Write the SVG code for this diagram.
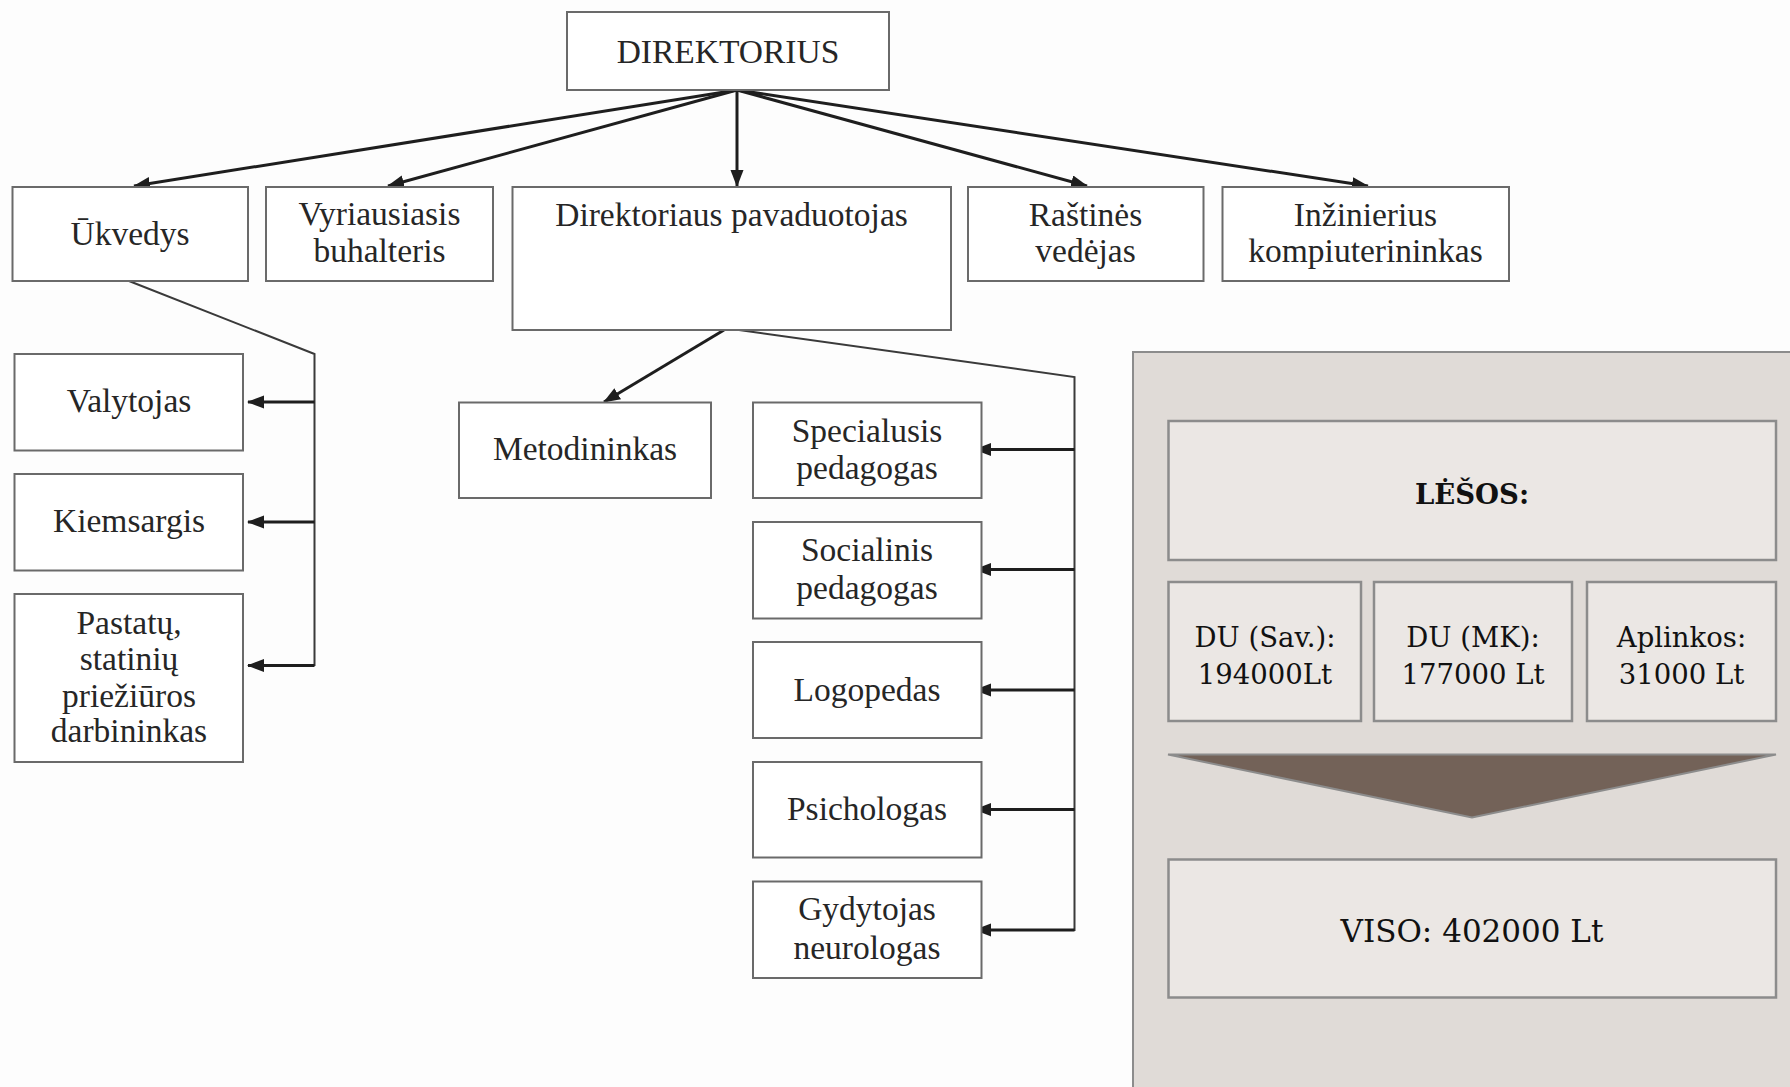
<svg xmlns="http://www.w3.org/2000/svg" width="1790" height="1087" viewBox="0 0 1790 1087">
<defs>
<marker id="ah" markerUnits="userSpaceOnUse" markerWidth="18" markerHeight="14" refX="16" refY="6.5" orient="auto">
<path d="M0,0 L17,6.5 L0,13 z" fill="#1e1e1e"/>
</marker>
</defs>
<style>
.bg{fill:#fdfdfd}
.box{fill:#ffffff;stroke:#6a6a6a;stroke-width:2}
.t{font-family:"Liberation Serif","Times New Roman",serif;font-size:33.5px;fill:#262626;text-anchor:middle}
.ar{fill:none;stroke:#1e1e1e;stroke-width:3;marker-end:url(#ah)}
.ln{fill:none;stroke:#3a3a3a;stroke-width:2}
.panel{fill:#e0dbd7;stroke:#8c8c8c;stroke-width:2}
.pbox{fill:#ebe7e4;stroke:#8c8c8c;stroke-width:2.5}
.pt{font-family:"DejaVu Serif","Liberation Serif",serif;font-size:27.5px;fill:#111;text-anchor:middle}
.pl{font-size:31px}
</style>
<rect class="bg" x="0" y="0" width="1790" height="1087"/>

<g id="connectors">
<line class="ar" x1="737" y1="90" x2="134" y2="186"/>
<line class="ar" x1="737" y1="90" x2="388" y2="186"/>
<line class="ar" x1="737" y1="90" x2="737" y2="186"/>
<line class="ar" x1="737" y1="90" x2="1087" y2="186"/>
<line class="ar" x1="737" y1="90" x2="1368" y2="186"/>
<polyline class="ln" points="129,281 314.5,354 314.5,666"/>
<line class="ar" x1="314.5" y1="402" x2="248" y2="402"/>
<line class="ar" x1="314.5" y1="522" x2="248" y2="522"/>
<line class="ar" x1="314.5" y1="665.5" x2="248" y2="665.5"/>
<line class="ar" x1="724" y1="330" x2="604" y2="402"/>
<polyline class="ln" points="739,330 1074.5,377 1074.5,931"/>
<line class="ar" x1="1074.5" y1="449.5" x2="975" y2="449.5"/>
<line class="ar" x1="1074.5" y1="569.5" x2="975" y2="569.5"/>
<line class="ar" x1="1074.5" y1="690" x2="975" y2="690"/>
<line class="ar" x1="1074.5" y1="809.5" x2="975" y2="809.5"/>
<line class="ar" x1="1074.5" y1="930" x2="975" y2="930"/>
</g>

<g id="n-direktorius"><rect class="box" x="567" y="12" width="322" height="78"/><text class="t" x="728" y="63">DIREKTORIUS</text></g>
<g id="n-ukvedys"><rect class="box" x="12.5" y="187" width="235.5" height="94"/><text class="t" x="130" y="245">Ūkvedys</text></g>
<g id="n-buhalteris"><rect class="box" x="266" y="187" width="227" height="94"/><text class="t" x="379.5" y="225">Vyriausiasis</text><text class="t" x="379.5" y="262">buhalteris</text></g>
<g id="n-pavaduotojas"><rect class="box" x="512.5" y="187" width="438.5" height="143"/><text class="t" x="731.5" y="226">Direktoriaus pavaduotojas</text></g>
<g id="n-rastine"><rect class="box" x="968" y="187" width="235.5" height="94"/><text class="t" x="1085.5" y="226">Raštinės</text><text class="t" x="1085.5" y="262">vedėjas</text></g>
<g id="n-inzinierius"><rect class="box" x="1222.5" y="187" width="286.5" height="94"/><text class="t" x="1365.5" y="226">Inžinierius</text><text class="t" x="1365.5" y="262">kompiuterininkas</text></g>

<g id="n-valytojas"><rect class="box" x="14.5" y="354" width="228.5" height="96.5"/><text class="t" x="129" y="412">Valytojas</text></g>
<g id="n-kiemsargis"><rect class="box" x="14.5" y="474" width="228.5" height="96.5"/><text class="t" x="129" y="532">Kiemsargis</text></g>
<g id="n-pastatu"><rect class="box" x="14.5" y="594" width="228.5" height="168"/><text class="t" x="129" y="634">Pastatų,</text><text class="t" x="129" y="670">statinių</text><text class="t" x="129" y="706.5">priežiūros</text><text class="t" x="129" y="742">darbininkas</text></g>

<g id="n-metodininkas"><rect class="box" x="459" y="402.5" width="252" height="95.5"/><text class="t" x="585" y="460">Metodininkas</text></g>
<g id="n-specialusis"><rect class="box" x="753" y="402.5" width="228.5" height="95.5"/><text class="t" x="867" y="442">Specialusis</text><text class="t" x="867" y="479">pedagogas</text></g>
<g id="n-socialinis"><rect class="box" x="753" y="522" width="228.5" height="96.5"/><text class="t" x="867" y="561">Socialinis</text><text class="t" x="867" y="599">pedagogas</text></g>
<g id="n-logopedas"><rect class="box" x="753" y="642" width="228.5" height="96"/><text class="t" x="867" y="701">Logopedas</text></g>
<g id="n-psichologas"><rect class="box" x="753" y="762" width="228.5" height="95.5"/><text class="t" x="867" y="820">Psichologas</text></g>
<g id="n-gydytojas"><rect class="box" x="753" y="881.5" width="228.5" height="96.5"/><text class="t" x="867" y="920">Gydytojas</text><text class="t" x="867" y="959">neurologas</text></g>

<g id="lesos-panel">
<rect class="panel" x="1133" y="352" width="700" height="800"/>
<g id="p-lesos"><rect class="pbox" x="1168.5" y="421" width="607.5" height="139"/><text class="pt" x="1472" y="504" font-weight="bold">LĖŠOS:</text></g>
<g id="p-sav"><rect class="pbox" x="1168.5" y="582" width="192.5" height="139"/><text class="pt" x="1265" y="647">DU (Sav.):</text><text class="pt" x="1265" y="684">194000Lt</text></g>
<g id="p-mk"><rect class="pbox" x="1374" y="582" width="198" height="139"/><text class="pt" x="1473" y="647">DU (MK):</text><text class="pt" x="1473" y="684">177000 Lt</text></g>
<g id="p-aplinkos"><rect class="pbox" x="1587" y="582" width="189" height="139"/><text class="pt" x="1681.5" y="647">Aplinkos:</text><text class="pt" x="1681.5" y="684">31000 Lt</text></g>
<polygon id="p-chevron" points="1168,754.5 1776,754.5 1472,817.5" fill="#736258" stroke="#8c8c8c" stroke-width="2"/>
<g id="p-viso"><rect class="pbox" x="1168.5" y="859.5" width="607.5" height="138"/><text class="pt pl" x="1472" y="942">VISO: 402000 Lt</text></g>
</g>
</svg>
